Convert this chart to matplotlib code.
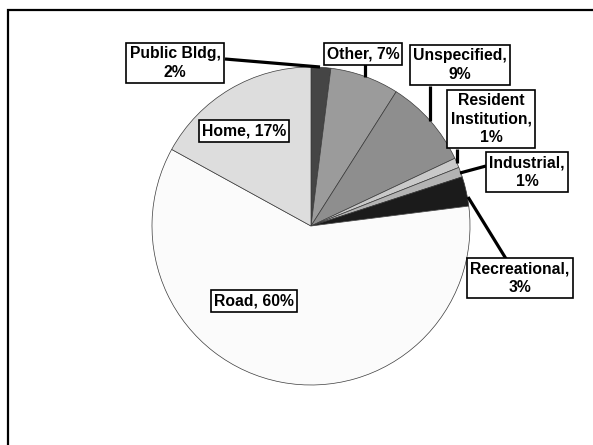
import matplotlib
matplotlib.use("Agg")
import matplotlib.pyplot as plt
from matplotlib.patches import Rectangle

# Injury location shares (%), clockwise from 12 o'clock
categories = ["Public Bldg", "Other", "Unspecified", "Resident\nInstitution",
              "Industrial", "Recreational", "Road", "Home"]
shares = [2, 7, 9, 1, 1, 3, 60, 17]
colors = ["#454545", "#9b9b9b", "#8e8e8e", "#c9c9c9",
          "#b3b3b3", "#1b1b1b", "#fbfbfb", "#dddddd"]

W, H = 593, 445
fig = plt.figure(figsize=(W / 100, H / 100), dpi=100)
ax = fig.add_axes([0, 0, 1, 1])


def px(x, y):
    """Pixel position measured from the top-left corner -> axes data coords."""
    return (x, H - y)


ax.pie(shares, colors=colors, startangle=90, counterclock=False,
       center=px(311, 226), radius=159, frame=True,
       wedgeprops=dict(edgecolor="#3a3a3a", linewidth=0.5))
ax.set_xlim(0, W)
ax.set_ylim(0, H)
ax.set_aspect("equal")
ax.axis("off")

# outer frame (runs off the right and bottom edges)
ax.add_patch(Rectangle(px(8, 460), 600, 450, fill=False, ec="black",
                       lw=1.6, clip_on=False))

# label anchors (text centre) and leader lines (label end -> slice)
label_pos = [(175, 63), (363, 54), (460, 65), (491, 119),
             (527, 172), (520, 278), (254, 301), (244, 131)]
leaders = [((225, 59), (320, 67)),
           ((365, 64), (365, 77)),
           ((430, 86), (430, 121)),
           ((457, 149), (457, 163)),
           ((486, 166), (460, 173)),
           ((508, 262), (468, 197)),
           None, None]

for (a, b) in [l for l in leaders if l is not None]:
    p0, p1 = px(*a), px(*b)
    ax.plot([p0[0], p1[0]], [p0[1], p1[1]], color="black", lw=2.3,
            solid_capstyle="butt", zorder=3)

one_line = ("Home", "Road", "Other")
for name, val, pos in zip(categories, shares, label_pos):
    txt = f"{name}, {val}%" if name in one_line else f"{name},\n{val}%"
    ax.text(*px(*pos), txt,
            ha="center", va="center", ma="center",
            family="Liberation Sans", weight="bold", fontsize=11.3,
            linespacing=1.28, zorder=4,
            bbox=dict(boxstyle="square,pad=0.2", fc="white", ec="black", lw=1.2))

fig.savefig("out.png", dpi=100)
